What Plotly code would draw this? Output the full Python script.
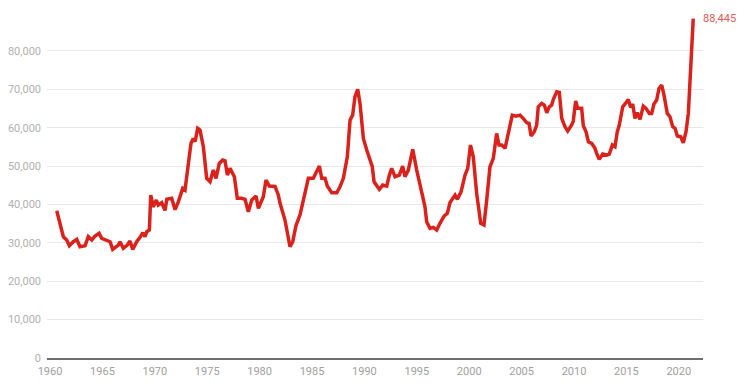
import plotly.graph_objects as go

years = [
    1960.64, 1961.27, 1961.59, 1961.84, 1962.22, 1962.55, 1962.86, 1963.34, 1963.65, 1963.98,
    1964.29, 1964.68, 1964.93, 1965.41, 1965.73, 1965.98, 1966.52, 1966.68, 1966.99, 1967.38,
    1967.63, 1967.89, 1968.27, 1968.59, 1968.85, 1969.06, 1969.23, 1969.48, 1969.61, 1969.86,
    1970.14, 1970.33, 1970.66, 1970.97, 1971.14, 1971.61, 1971.93, 1972.24, 1972.66, 1972.88,
    1973.20, 1973.45, 1973.67, 1973.84, 1974.09, 1974.31, 1974.63, 1974.95, 1975.27, 1975.58,
    1975.84, 1976.15, 1976.48, 1976.70, 1976.92, 1977.18, 1977.59, 1977.87, 1978.29, 1978.61,
    1978.92, 1979.25, 1979.66, 1979.88, 1980.35, 1980.61, 1980.93, 1981.47, 1981.78, 1981.95,
    1982.42, 1982.90, 1983.16, 1983.47, 1983.85, 1984.17, 1984.65, 1985.12, 1985.45, 1985.70,
    1985.93, 1986.24, 1986.46, 1986.88, 1987.36, 1987.67, 1987.99, 1988.37, 1988.63, 1988.88,
    1989.10, 1989.36, 1989.58, 1989.90, 1990.22, 1990.53, 1990.75, 1990.92, 1991.17, 1991.42,
    1991.75, 1992.13, 1992.38, 1992.60, 1992.92, 1993.33, 1993.65, 1993.87, 1994.19, 1994.61,
    1994.99, 1995.47, 1995.78, 1995.94, 1996.26, 1996.57, 1996.90, 1997.21, 1997.60, 1997.91,
    1998.17, 1998.65, 1998.87, 1999.22, 1999.60, 1999.86, 2000.12, 2000.39, 2000.71, 2001.10,
    2001.41, 2001.67, 2001.98, 2002.30, 2002.62, 2002.84, 2003.10, 2003.42, 2003.73, 2004.11,
    2004.47, 2004.85, 2005.23, 2005.49, 2005.71, 2005.90, 2006.21, 2006.44, 2006.59, 2006.92,
    2007.17, 2007.40, 2007.64, 2007.87, 2008.03, 2008.35, 2008.60, 2008.83, 2009.14, 2009.40,
    2009.78, 2009.93, 2010.16, 2010.35, 2010.73, 2010.89, 2011.15, 2011.37, 2011.69, 2012.00,
    2012.16, 2012.41, 2012.74, 2013.12, 2013.37, 2013.66, 2013.91, 2014.13, 2014.32, 2014.65,
    2015.03, 2015.18, 2015.41, 2015.60, 2015.82, 2016.04, 2016.30, 2016.61, 2016.87, 2017.19,
    2017.41, 2017.63, 2017.89, 2018.11, 2018.37, 2018.59, 2018.90, 2019.16, 2019.42, 2019.64,
    2019.86, 2020.18, 2020.43, 2020.69, 2020.91, 2021.07, 2021.23, 2021.38,
]

values = [
    38370, 31600, 30740, 29250, 30300, 30900, 29000, 29250, 31600, 30740,
    31780, 32480, 31180, 30740, 30300, 28300, 29440, 30300, 28580, 29440,
    30480, 28300, 30300, 31440, 32640, 31600, 32900, 33340, 42460, 39400,
    41160, 39860, 40460, 38450, 41340, 41600, 38650, 40700, 44200, 43760,
    51580, 55930, 57230, 56350, 59840, 59400, 55040, 46810, 45930, 48970,
    46810, 50700, 51580, 51400, 47670, 49420, 47230, 41600, 41600, 41340,
    38110, 41160, 42200, 39000, 42020, 46370, 44800, 44700, 42500, 40300,
    35950, 29000, 30300, 34500, 37250, 41160, 46810, 46810, 48970, 50020,
    46810, 46810, 44800, 43060, 43060, 44630, 46810, 52440, 62000, 63300,
    68070, 70000, 66350, 57230, 54180, 51580, 49840, 45930, 44800, 43950,
    45070, 44800, 47670, 49420, 47230, 47670, 50020, 47230, 48970, 54370,
    48970, 43320, 39400, 35500, 33790, 34050, 33340, 35090, 36990, 37700,
    40500, 42460, 41340, 43300, 47670, 49420, 55490, 52440, 42900, 35090,
    34650, 41160, 49840, 52020, 58530, 55490, 55490, 54630, 58950, 63300,
    63040, 63300, 62180, 61300, 61130, 57830, 58950, 60700, 65460, 66350,
    65900, 63900, 65460, 65900, 67390, 69370, 69200, 62440, 60260, 59130,
    60700, 61740, 66950, 65050, 65050, 60500, 58950, 56350, 55930, 54630,
    53330, 51760, 53140, 52880, 53140, 55490, 55040, 58950, 60700, 65460,
    66770, 67390, 65300, 66170, 62440, 63900, 62180, 65650, 65050, 63740,
    63740, 66170, 67200, 70250, 71120, 68510, 63740, 62860, 60260, 59840,
    57830, 57650, 56090, 58950, 63740, 72420, 81100, 88445,
]

y_ticks = [0, 10000, 20000, 30000, 40000, 50000, 60000, 70000, 80000]
y_tick_text = ["0", "10,000", "20,000", "30,000", "40,000", "50,000", "60,000", "70,000", "80,000"]
x_ticks = [1960, 1965, 1970, 1975, 1980, 1985, 1990, 1995, 2000, 2005, 2010, 2015, 2020]
x_tick_text = [str(v) for v in x_ticks]

line_color = "#d9221c"

fig = go.Figure()
fig.add_trace(go.Scatter(
    x=years, y=values, mode="lines",
    line=dict(color=line_color, width=3.5),
    hoverinfo="skip", showlegend=False,
))

fig.add_annotation(
    x=years[-1], y=values[-1], xref="x", yref="y",
    text=f"{values[-1]:,}", showarrow=False,
    xanchor="left", yanchor="middle", xshift=8,
    font=dict(family="Roboto", size=11, color="#e05a55"),
)

fig.update_layout(
    width=754, height=386,
    margin=dict(l=39, r=59, t=5, b=36, autoexpand=False),
    paper_bgcolor="white", plot_bgcolor="white",
    font=dict(family="Roboto", size=11, color="#a8a8a8"),
    xaxis=dict(
        range=[1959.71, 2022.31],
        tickvals=x_ticks, ticktext=x_tick_text,
        showgrid=False, zeroline=False,
        showline=True, linecolor="#6e6e6e", linewidth=1.5,
        ticks="", ticklabelstandoff=2, automargin=False,
        tickfont=dict(family="Roboto", size=11, color="#a0a0a0"),
    ),
    yaxis=dict(
        range=[0, 89900],
        tickvals=y_ticks, ticktext=y_tick_text,
        showgrid=True, gridcolor="#e8e8e8", gridwidth=1,
        zeroline=False, showline=False,
        ticks="", ticklabelstandoff=5, automargin=False,
        tickfont=dict(family="Roboto", size=11, color="#b0b0b0"),
    ),
)

fig.write_html("out.html")
